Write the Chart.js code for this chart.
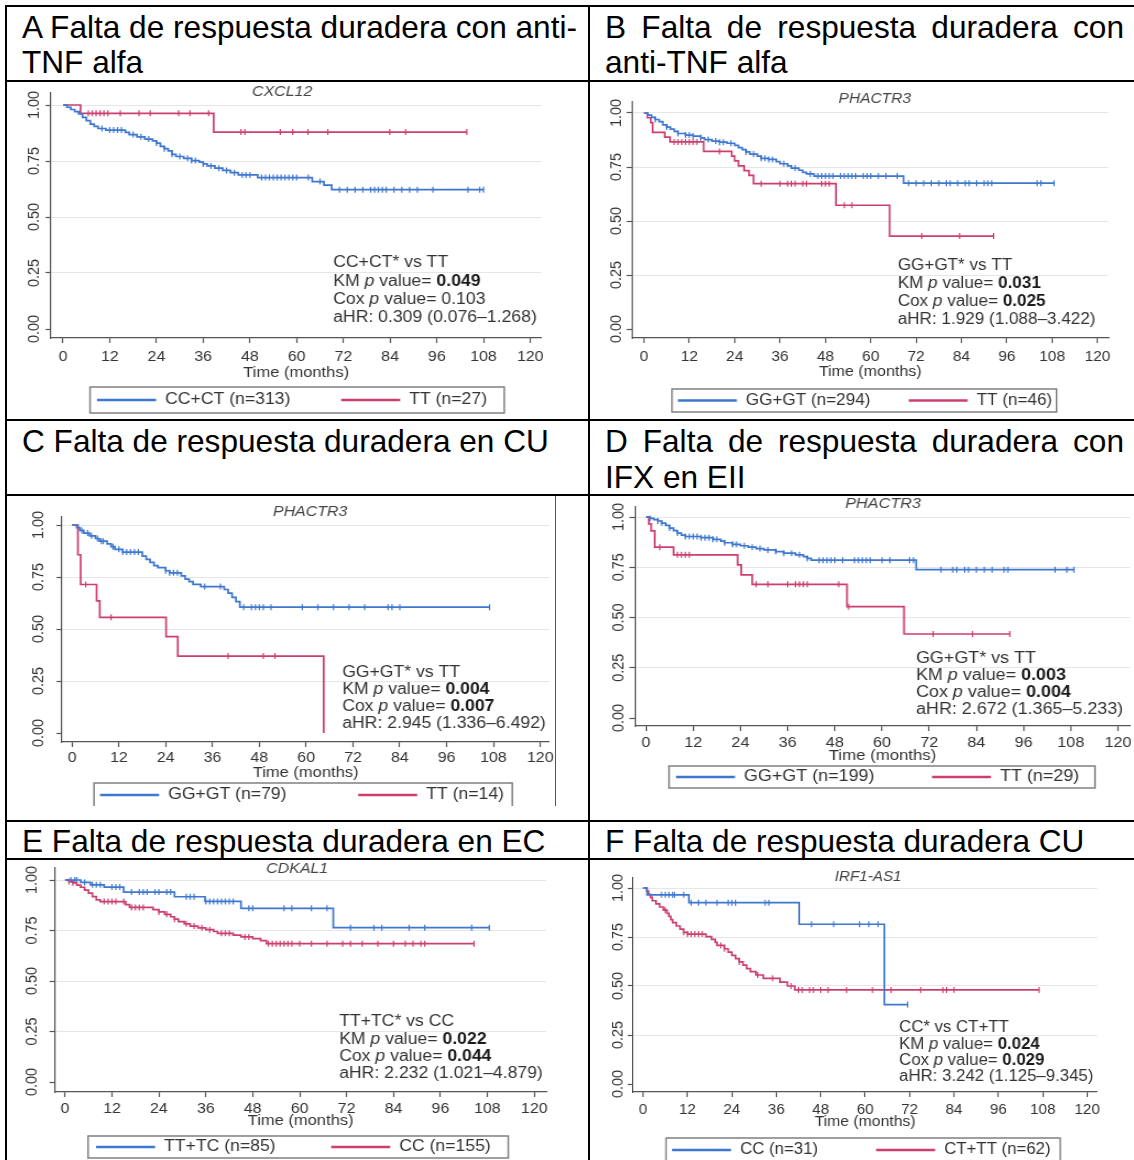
<!DOCTYPE html>
<html>
<head>
<meta charset="utf-8">
<script src="https://cdn.jsdelivr.net/npm/chart.js@4.4.1/dist/chart.umd.min.js"></script>
<style>
html, body { margin:0; padding:0; background:#fff; overflow:hidden; width:1134px; height:1160px; }
body { position:relative; font-family:"Liberation Sans", Arial, sans-serif; }
.ln { position:absolute; background:#000; }
.hd { position:absolute; font-size:31.6px; line-height:36px; color:#000; white-space:nowrap; }
.jf { white-space:normal; text-align:justify; text-align-last:justify; }
.wrap { position:absolute; overflow:hidden; }
.wrap canvas { position:absolute; left:0; top:0; }
</style>
</head>
<body>
<div class="ln" style="left:5px;top:5px;width:1129px;height:2px"></div>
<div class="ln" style="left:5px;top:80px;width:1129px;height:2px"></div>
<div class="ln" style="left:5px;top:419px;width:1129px;height:2px"></div>
<div class="ln" style="left:5px;top:494px;width:1129px;height:2px"></div>
<div class="ln" style="left:5px;top:820px;width:1129px;height:2px"></div>
<div class="ln" style="left:5px;top:858px;width:1129px;height:2px"></div>
<div class="ln" style="left:5px;top:5px;width:2px;height:1155px"></div>
<div class="ln" style="left:588px;top:5px;width:2px;height:1155px"></div>
<div class="ln" style="left:555px;top:496px;width:1px;height:310px;background:#555"></div>

<div class="hd" style="left:22px;top:9px">A Falta de respuesta duradera con anti-</div>
<div class="hd" style="left:22px;top:44px">TNF alfa</div>
<div class="hd jf" style="left:605px;top:9px;width:519px">B Falta de respuesta duradera con</div>
<div class="hd" style="left:605px;top:44px">anti-TNF alfa</div>
<div class="hd" style="left:22px;top:423px">C Falta de respuesta duradera en CU</div>
<div class="hd jf" style="left:605px;top:423px;width:519px">D Falta de respuesta duradera con</div>
<div class="hd" style="left:605px;top:459px">IFX en EII</div>
<div class="hd" style="left:22px;top:823px">E Falta de respuesta duradera en EC</div>
<div class="hd" style="left:605px;top:823px">F Falta de respuesta duradera CU</div>

<script>
// axis ticks shared by all six panels
const xTicks = [0, 12, 24, 36, 48, 60, 72, 84, 96, 108, 120];
const yTicks = [0, 0.25, 0.5, 0.75, 1];

// A - CXCL12  ([month, survival] after each step, last pair = end of follow-up)
const aBlue = [[0,1],[1,0.99],[2,0.98],[3,0.97],[4,0.96],[5,0.945],[6,0.93],[7,0.915],[8,0.905],[9,0.895],[11,0.888],[16,0.878],[17,0.868],[19,0.858],[21,0.848],[23,0.84],[24,0.83],[25,0.815],[26,0.805],[27,0.795],[28,0.78],[29,0.77],[31,0.762],[33,0.752],[35,0.745],[36,0.737],[37,0.728],[39,0.718],[41,0.708],[43,0.698],[45,0.688],[50,0.676],[64,0.658],[67,0.642],[69,0.622],[108,0.622]];
const aBlueCens = [10,12,13,14,15,18,20,22,24,26,28,30,32,33,34,36,38,40,42,44,46,47,48,51,52,53,54,55,56,57,58,59,60,63,66,71,73,75,77,79,80,81,82,83,85,87,89,91,95,104,107,108];
const aRed = [[0,1],[4.5,0.963],[38.7,0.879],[103.7,0.879]];
const aRedCens = [6.5,7.5,8.5,9.5,10.5,11.5,14.7,19.5,22.4,29.7,32.6,37.4,45.7,46.7,55.8,59,62.9,68,83.9,88,103.7];
const aLabels = ['CC+CT (n=313)', 'TT (n=27)'];
const aStats = ['CC+CT* vs TT', '0.049', '0.103', '0.309 (0.076\u20131.268)'];

// B - PHACTR3 anti-TNF
const bBlue = [[0,1],[1,0.99],[2,0.98],[3,0.97],[4,0.96],[5,0.945],[6,0.935],[7,0.925],[8,0.915],[9,0.905],[11,0.898],[13,0.893],[15,0.885],[16,0.877],[18,0.87],[20,0.865],[22,0.86],[24,0.85],[25,0.84],[26,0.83],[27,0.82],[28,0.81],[30,0.8],[31,0.79],[33,0.785],[35,0.775],[36,0.765],[38,0.755],[39,0.745],[41,0.735],[42,0.725],[43,0.718],[45,0.708],[68.7,0.675],[108.5,0.675]];
const bBlueCens = [3,6,9,11,12,13,15,17,19,20,21,23,27,29,31,32,33,34,37,40,44,46,47,48,49,50,52,53,54,55,56,58,59,60,62,64,67,70,72,74,76,78,80,81,83,85,86,88,90,91,92,104,105,108.5];
const bRed = [[0,1],[0.9,0.978],[1.8,0.955],[2.3,0.91],[5.5,0.888],[6.9,0.866],[15.8,0.822],[23.2,0.8],[24,0.778],[25,0.755],[26.5,0.733],[27.8,0.711],[29,0.673],[50.8,0.573],[65,0.43],[92.5,0.43]];
const bRedCens = [8,9,10,11,12,13,14,20,31,36,38,39,40,42,43,47,48,49,53,55,73.5,83.5,92.5];
const bLabels = ['GG+GT (n=294)', 'TT (n=46)'];
const bStats = ['GG+GT* vs TT', '0.031', '0.025', '1.929 (1.088\u20133.422)'];

// C - PHACTR3 CU
const cBlue = [[0,1],[1.2,0.987],[2,0.974],[3,0.961],[4.5,0.948],[6,0.935],[7,0.922],[9,0.909],[10,0.896],[11,0.883],[13,0.87],[18,0.85],[19,0.835],[20,0.82],[21,0.805],[22,0.795],[24,0.78],[25,0.77],[28,0.755],[29,0.74],[30,0.728],[31,0.715],[33,0.704],[39,0.69],[40,0.672],[41,0.652],[42,0.632],[43,0.605],[107,0.605]];
const cBlueCens = [2.5,4,5,6.5,7.5,8,10.5,12,13,14,15,16,17,24,25,26,27,34,38,44,46,47,48,49,51,59,63,67,71,75,81,82,84,107];
const cRed = [[0,1],[1.5,0.857],[2.2,0.714],[6.3,0.635],[7.1,0.556],[24.1,0.463],[27.1,0.37],[64.5,0]];
const cRedCens = [3.5,10,40,49,52];
const cLabels = ['GG+GT (n=79)', 'TT (n=14)'];
const cStats = ['GG+GT* vs TT', '0.004', '0.007', '2.945 (1.336\u20136.492)'];

// D - PHACTR3 IFX
const dBlue = [[0,1],[1,0.993],[2,0.987],[3,0.98],[4,0.97],[5,0.958],[6,0.945],[7,0.932],[8,0.92],[9,0.91],[10,0.903],[14,0.897],[17,0.889],[19,0.88],[20,0.872],[22,0.864],[24,0.857],[26,0.85],[28,0.843],[30,0.836],[33,0.828],[35,0.82],[38,0.812],[40,0.803],[41,0.794],[42,0.785],[68.7,0.738],[108.8,0.738]];
const dBlueCens = [1,3,4,6,8,10,11,12,13,14,15,16,17,18,20,22,23,25,27,29,31,33,35,37,39,41,44,45,46,47,48,50,53,54,55,56,57,60,62,67,68,75,78,79,81,82,84,86,88,91,92,104,107,108.8];
const dRed = [[0,1],[0.7,0.966],[1.3,0.931],[2.2,0.85],[7,0.812],[23.3,0.762],[24.2,0.712],[27,0.665],[51.1,0.554],[65.6,0.418],[92.5,0.418]];
const dRedCens = [3.5,8,9,10,11,28,31,36,38,39,40,41,49,51.5,73,83,92.5];
const dLabels = ['GG+GT (n=199)', 'TT (n=29)'];
const dStats = ['GG+GT* vs TT', '0.003', '0.004', '2.672 (1.365\u20135.233)'];

// E - CDKAL1
const eBlue = [[0,1],[4,0.988],[6.5,0.976],[10,0.965],[15,0.94],[28,0.917],[35.8,0.894],[45,0.86],[68.6,0.764],[108.5,0.764]];
const eBlueCens = [1.5,2.5,3,5,7,8,9,12,13,14,17,19,20,21,23,24,26,27,31,32,33,36,37,38,39,40,41,42,43,47,48,56,58,63,67,73,79,81,88,92,104,108.5];
const eRed = [[0,1],[1,0.993],[2,0.986],[3,0.975],[4,0.964],[5,0.95],[6,0.935],[7,0.918],[8,0.902],[9,0.893],[15.5,0.878],[16.5,0.864],[22.5,0.853],[24,0.842],[25.5,0.83],[27,0.818],[28,0.806],[29,0.794],[30.5,0.783],[32,0.772],[34,0.763],[36,0.754],[38,0.745],[39,0.736],[43,0.727],[45,0.718],[48,0.71],[50,0.7],[51.5,0.685],[104.6,0.685]];
const eRedCens = [1,2,10,11,12,13,15,17,18,19,20,24,26,28,31,33,35,37,40,41,42,46,47,52,53,54,55,56,57,58,60,63,67,71,73,76,80,84,87,89,91,92,104.6];
const eLabels = ['TT+TC (n=85)', 'CC (n=155)'];
const eStats = ['TT+TC* vs CC', '0.022', '0.044', '2.232 (1.021\u20134.879)'];

// F - IRF1-AS1
const fBlue = [[0,1],[1.1,0.965],[12.4,0.925],[42.2,0.815],[65.2,0.405],[71.5,0.405]];
const fBlueCens = [5,6,7,8,8.5,11,13,15,17,20,23,24,25,33,34,45.5,51.5,58.5,61,63.5,71.5];
const fRed = [[0,1],[1,0.984],[1.5,0.968],[2,0.952],[2.5,0.935],[3.5,0.919],[4.5,0.903],[5.5,0.887],[6.5,0.871],[7,0.855],[7.5,0.839],[8,0.823],[9,0.806],[10,0.79],[11,0.774],[12,0.765],[17,0.752],[18.5,0.738],[19.5,0.723],[20,0.707],[22,0.69],[23,0.673],[24,0.656],[25,0.64],[26,0.623],[27,0.606],[28,0.589],[29,0.573],[30.5,0.556],[32.5,0.539],[37,0.52],[39,0.5],[41,0.48],[107,0.48]];
const fRedCens = [6,11,12,13,14,15,16,21,22,26,31,35,40,42,43,45,46,48,50,55,62,67,75,81,82,84,107];
const fLabels = ['CC (n=31)', 'CT+TT (n=62)'];
const fStats = ['CC* vs CT+TT', '0.024', '0.029', '3.242 (1.125\u20139.345)'];

const genes = ['CXCL12', 'PHACTR3', 'PHACTR3', 'PHACTR3', 'CDKAL1', 'IRF1-AS1'];

const BLUE = '#3d77cf', RED = '#cc3f6c';
const FONT = '"Liberation Sans", Arial, sans-serif';
const TL = 5, XH = 50, TICK = 14.5;
Chart.defaults.font.family = FONT;
Chart.defaults.color = '#333';

// page-pixel placement of each scanned chart (s = horizontal stretch of the image)
const geo = [
  { x:8,   y:83,  w:580, h:336, s:1.10, axL:51,  axR:541,  axT:93,  axB:338,  x0:63,  x120:530,  y1:105, y0:329,  xlabY:357,  ylabX:34,  timeY:373,
    title:[282,92],  stats:[333,263,18.3],  leg:{l:90,  r:504,  y:400,   hh:13,   x1:97,  x2:341} },
  { x:591, y:83,  w:542, h:336, s:1.07, axL:632, axR:1109, axT:102, axB:338,  x0:644, x120:1098, y1:113, y0:329,  xlabY:357,  ylabX:617, timeY:372,
    title:[875,99],  stats:[898,266,17.7],  leg:{l:672, r:1057, y:400.5, hh:11.5, x1:678, x2:909} },
  { x:8,   y:497, w:580, h:323, clip:309, s:1.10, axL:62, axR:549, axT:517, axB:742, x0:72, x120:540, y1:525, y0:733, xlabY:758, ylabX:39, timeY:773,
    title:[310,512], stats:[342,673,16.7],  leg:{l:94,  r:512,  y:795,   hh:12,   x1:100, x2:358} },
  { x:591, y:497, w:560, h:323, s:1.12, axL:635, axR:1130, axT:507, axB:726,  x0:646, x120:1118, y1:517, y0:718,  xlabY:743,  ylabX:619, timeY:756,
    title:[883,504], stats:[916,659,16.7],  leg:{l:669, r:1095, y:777,   hh:11,   x1:676, x2:932} },
  { x:8,   y:855, w:580, h:305, s:1.10, axL:55,  axR:546,  axT:868, axB:1092, x0:65,  x120:534,  y1:880, y0:1082, xlabY:1109, ylabX:32,  timeY:1121,
    title:[297,869], stats:[339,1022,17.3], leg:{l:88,  r:508,  y:1147,  hh:11,   x1:96,  x2:331} },
  { x:591, y:861, w:542, h:299, s:1.05, axL:633, axR:1097, axT:878, axB:1092, x0:643, x120:1087, y1:888, y0:1084, xlabY:1110, ylabX:618, timeY:1122,
    title:[868,877], stats:[899,1028,16.3], leg:{l:666, r:1060, y:1150,  hh:12,   x1:672, x2:876} }
];

const panels = [
  { blue:aBlue, blueCens:aBlueCens, red:aRed, redCens:aRedCens, labels:aLabels, stats:aStats, bold:[true, false] },
  { blue:bBlue, blueCens:bBlueCens, red:bRed, redCens:bRedCens, labels:bLabels, stats:bStats, bold:[true, true] },
  { blue:cBlue, blueCens:cBlueCens, red:cRed, redCens:cRedCens, labels:cLabels, stats:cStats, bold:[true, true] },
  { blue:dBlue, blueCens:dBlueCens, red:dRed, redCens:dRedCens, labels:dLabels, stats:dStats, bold:[true, true] },
  { blue:eBlue, blueCens:eBlueCens, red:eRed, redCens:eRedCens, labels:eLabels, stats:eStats, bold:[true, true] },
  { blue:fBlue, blueCens:fBlueCens, red:fRed, redCens:fRedCens, labels:fLabels, stats:fStats, bold:[true, true] }
];

// KM value in force at time t
function stepAt(steps, t) {
  let v = steps[0][1];
  for (const [x, y] of steps) if (x <= t) v = y;
  return v;
}

const curve = (steps, color, label) => ({
  label, data: steps.map(([x, y]) => ({x, y})), borderColor: color, backgroundColor: color,
  borderWidth: 1.7, stepped: true, pointRadius: 0, fill: false
});
const marks = (steps, times, color) => ({
  data: times.map(t => ({x: t, y: stepAt(steps, t)})), showLine: false,
  pointStyle: 'line', pointRotation: 90, pointRadius: 3, pointBorderWidth: 1.2,
  pointBorderColor: color, borderColor: color, backgroundColor: color
});

// gene title, stats block and boxed legend
function decor(p, g, gene, X, Y) {
  return {
    id: 'decor',
    afterDraw(chart) {
      const ctx = chart.ctx;
      ctx.save();
      ctx.textBaseline = 'middle';
      ctx.font = `italic 14.5px ${FONT}`;
      ctx.fillStyle = '#444';
      ctx.textAlign = 'center';
      ctx.fillText(gene, X(g.title[0]), Y(g.title[1]));

      ctx.textAlign = 'left';
      const [hd, km, cox, hr] = p.stats;
      const rows = [
        [[hd, '']],
        [['KM ', ''], ['p', 'italic '], [' value= ', ''], [km, p.bold[0] ? 'bold ' : '']],
        [['Cox ', ''], ['p', 'italic '], [' value= ', ''], [cox, p.bold[1] ? 'bold ' : '']],
        [['aHR: ' + hr, '']]
      ];
      rows.forEach((segs, i) => {
        let x = X(g.stats[0]);
        const y = Y(g.stats[1] + i * g.stats[2]);
        for (const [t, st] of segs) {
          ctx.font = `${st}16px ${FONT}`;
          ctx.fillStyle = st === 'bold ' ? '#1a1a1a' : '#333';
          ctx.fillText(t, x, y);
          x += ctx.measureText(t).width;
        }
      });

      const L = g.leg;
      ctx.strokeStyle = '#808080';
      ctx.lineWidth = 1.5;
      ctx.strokeRect(X(L.l), Y(L.y - L.hh), X(L.r) - X(L.l), 2 * L.hh);
      ctx.font = `16px ${FONT}`;
      chart.data.datasets.slice(0, 2).forEach((ds, i) => {
        const x0 = i ? L.x2 : L.x1;
        ctx.strokeStyle = ds.borderColor;
        ctx.lineWidth = 2.5;
        ctx.beginPath();
        ctx.moveTo(X(x0), Y(L.y));
        ctx.lineTo(X(x0 + 59), Y(L.y));
        ctx.stroke();
        ctx.fillStyle = '#333';
        ctx.fillText(ds.label, X(x0 + 68), Y(L.y));
      });
      ctx.restore();
    }
  };
}

function build(p, g, gene) {
  const s = g.s;
  const W = Math.round(g.w / s), H = g.h;
  const X = v => (v - g.x) / s, Y = v => v - g.y;

  const wrap = document.createElement('div');
  wrap.className = 'wrap';
  wrap.style.cssText = `left:${g.x}px;top:${g.y}px;width:${g.w}px;height:${g.clip || g.h}px`;
  const cv = document.createElement('canvas');
  cv.width = W; cv.height = H;
  cv.style.width = g.w + 'px'; cv.style.height = H + 'px';
  wrap.appendChild(cv);
  document.body.appendChild(wrap);

  const ppx = (X(g.x120) - X(g.x0)) / 120;
  const ppy = g.y0 - g.y1;
  const lh = TICK * 1.2;
  const m = document.createElement('canvas').getContext('2d');
  m.font = `${TICK}px ${FONT}`;
  const wLab = m.measureText('0.00').width;

  new Chart(cv, {
    type: 'line',
    data: { datasets: [
      curve(p.blue, BLUE, p.labels[0]),
      curve(p.red, RED, p.labels[1]),
      marks(p.blue, p.blueCens, BLUE),
      marks(p.red, p.redCens, RED)
    ] },
    options: {
      responsive: false, animation: false, devicePixelRatio: 1, events: [],
      layout: { padding: { left: 0, top: Y(g.axT), right: W - X(g.axR), bottom: H - Y(g.axB) - XH } },
      plugins: { legend: { display: false }, tooltip: { enabled: false } },
      scales: {
        x: {
          type: 'linear',
          min: -(X(g.x0) - X(g.axL)) / ppx,
          max: 120 + (X(g.axR) - X(g.x120)) / ppx,
          afterBuildTicks: sc => { sc.ticks = xTicks.map(v => ({value: v})); },
          afterFit: sc => { sc.height = XH; },
          grid: { drawOnChartArea: false, tickLength: TL, tickColor: '#555', tickWidth: 1.2 },
          border: { color: '#555', width: 1.2 },
          ticks: { autoSkip: false, maxRotation: 0, font: { size: TICK }, color: '#333',
                   padding: g.xlabY - g.axB - TL - lh / 2 },
          title: { display: true, text: 'Time (months)', font: { size: 15 }, color: '#333',
                   padding: { top: 0, bottom: g.axB + XH - g.timeY - 9 } }
        },
        y: {
          min: -(g.axB - g.y0) / ppy,
          max: 1 + (g.y1 - g.axT) / ppy,
          afterBuildTicks: sc => { sc.ticks = yTicks.map(v => ({value: v})); },
          afterFit: sc => { sc.width = X(g.axL); },
          grid: { color: c => (c.tick && c.tick.value === 0) ? 'rgba(0,0,0,0)' : '#e6e6e6',
                  tickLength: TL, tickColor: '#555', tickWidth: 1.2 },
          border: { color: '#555', width: 1.2 },
          ticks: { minRotation: 90, maxRotation: 90, crossAlign: 'center', font: { size: TICK }, color: '#333',
                   padding: X(g.axL) - X(g.ylabX) - TL - wLab / 2,
                   callback: v => v.toFixed(2) }
        }
      }
    },
    plugins: [decor(p, g, gene, X, Y)]
  });
}

panels.forEach((p, i) => build(p, geo[i], genes[i]));
</script>
</body>
</html>
